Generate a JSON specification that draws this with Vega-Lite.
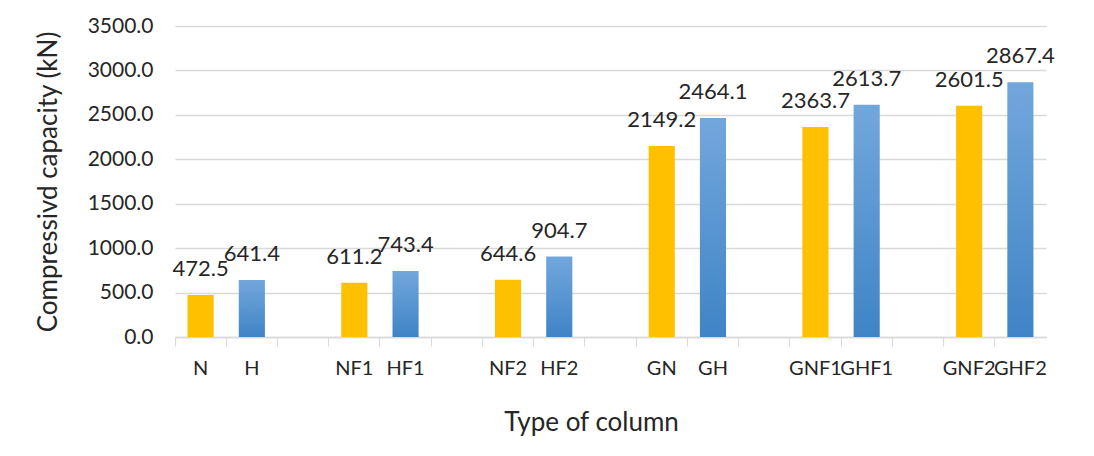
{
  "$schema": "https://vega.github.io/schema/vega-lite/v6.json",
  "width": 871,
  "height": 311,
  "autosize": "none",
  "padding": {"left": 175, "top": 26, "right": 48, "bottom": 119},
  "background": "white",
  "config": {
    "view": {"stroke": null},
    "font": "Lato",
    "axis": {"labelColor": "#262626", "titleColor": "#262626", "labelFont": "Lato", "titleFont": "Lato", "titleFontWeight": "normal"}
  },
  "data": {
    "values": [
      {"type": "N", "series": "N", "value": 472.5},
      {"type": "H", "series": "H", "value": 641.4},
      {"type": "NF1", "series": "N", "value": 611.2},
      {"type": "HF1", "series": "H", "value": 743.4},
      {"type": "NF2", "series": "N", "value": 644.6},
      {"type": "HF2", "series": "H", "value": 904.7},
      {"type": "GN", "series": "N", "value": 2149.2},
      {"type": "GH", "series": "H", "value": 2464.1},
      {"type": "GNF1", "series": "N", "value": 2363.7},
      {"type": "GHF1", "series": "H", "value": 2613.7},
      {"type": "GNF2", "series": "N", "value": 2601.5},
      {"type": "GHF2", "series": "H", "value": 2867.4}
    ]
  },
  "encoding": {
    "x": {
      "field": "type",
      "type": "nominal",
      "sort": null,
      "scale": {
        "domain": ["N", "H", "s1", "NF1", "HF1", "s2", "NF2", "HF2", "s3", "GN", "GH", "s4", "GNF1", "GHF1", "s5", "GNF2", "GHF2"],
        "paddingInner": 0,
        "paddingOuter": 0
      },
      "axis": {
        "title": "Type of column",
        "titleFontSize": 26,
        "titlePadding": 31,
        "titleX": 416,
        "labelFontSize": 20,
        "labelAngle": 0,
        "labelExpr": "indexof(datum.value, 's') == 0 ? '' : datum.value",
        "bandPosition": 0,
        "labelPadding": 12,
        "tickColor": "#d9d9d9",
        "tickSize": 9,
        "domainColor": "#d9d9d9",
        "domainWidth": 1.5,
        "grid": false
      }
    },
    "y": {
      "field": "value",
      "type": "quantitative",
      "scale": {"domain": [0, 3500], "nice": false},
      "axis": {
        "title": "Compressivd capacity (kN)",
        "titleFontSize": 26,
        "titlePadding": 26,
        "labelFontSize": 21,
        "labelPadding": 22,
        "format": ".1f",
        "values": [0, 500, 1000, 1500, 2000, 2500, 3000, 3500],
        "domain": false,
        "ticks": false,
        "grid": true,
        "gridColor": "#d9d9d9",
        "gridWidth": 1.5
      }
    }
  },
  "layer": [
    {
      "transform": [{"filter": "datum.series == 'N'"}],
      "mark": {"type": "bar", "width": {"band": 0.51}, "color": "#FFC000"}
    },
    {
      "transform": [{"filter": "datum.series == 'H'"}],
      "mark": {
        "type": "bar",
        "width": {"band": 0.51},
        "color": {
          "gradient": "linear",
          "x1": 0, "y1": 0, "x2": 0, "y2": 1,
          "stops": [
            {"offset": 0, "color": "#72A7DC"},
            {"offset": 1, "color": "#3F84C6"}
          ]
        }
      }
    },
    {
      "mark": {"type": "text", "baseline": "middle", "dy": -26, "fontSize": 22, "color": "#262626"},
      "encoding": {
        "text": {"field": "value", "type": "quantitative", "format": ".1f"}
      }
    }
  ]
}
